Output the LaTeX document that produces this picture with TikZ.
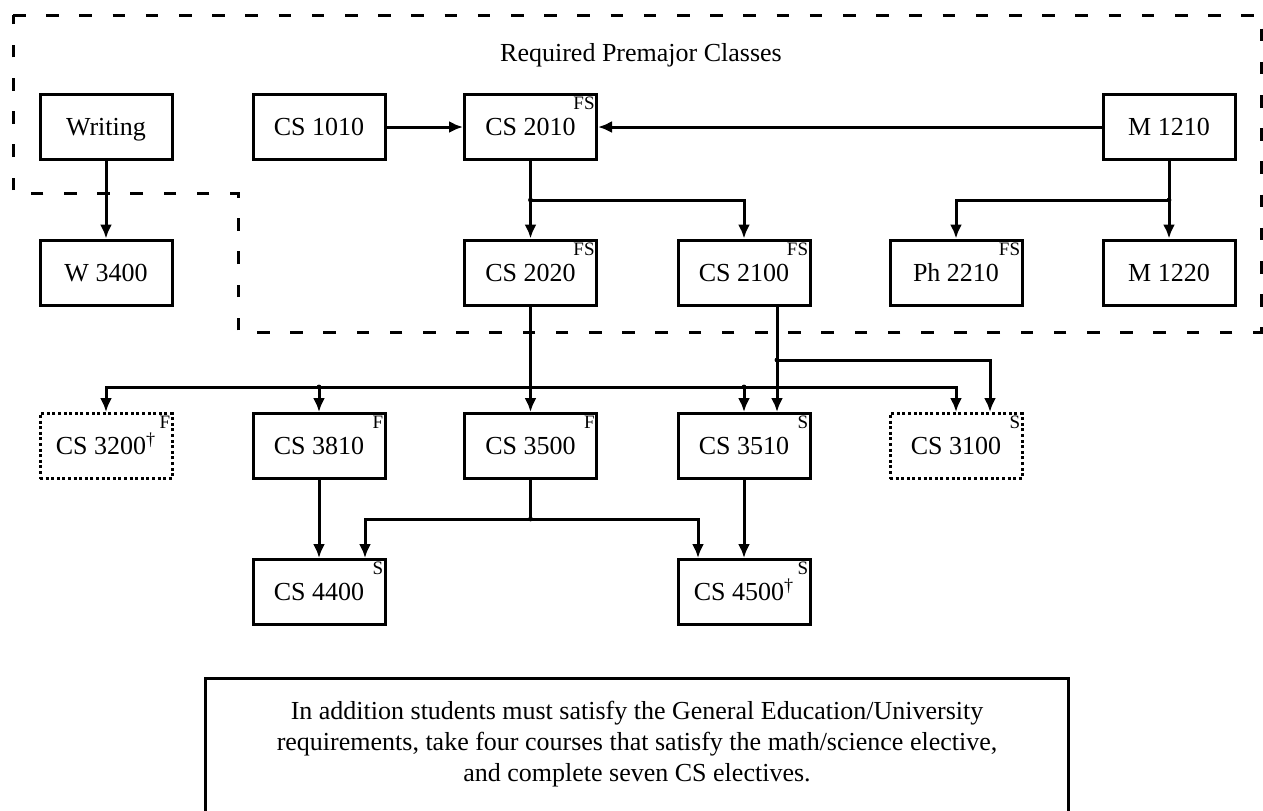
\documentclass[tikz,border=0pt]{standalone}
\usepackage{fontspec}
\setmainfont{Liberation Serif}
\usetikzlibrary{arrows.meta}
\tikzset{
  course/.style={draw, line width=1.5pt, minimum width=66pt, minimum height=32.5pt,
    inner sep=0pt, text height=8.6pt, text depth=0pt, font=\fontsize{13}{15.6}\selectfont},
  elective/.style={course, dash pattern=on 1.5pt off 1.3pt},
  term/.style={anchor=north east, inner sep=0pt, xshift=-1.5pt, yshift=-2pt,
    font=\fontsize{9.5}{11}\selectfont},
  link/.style={line width=1.5pt, -{Latex[length=7pt,width=6pt]}},
  premajor/.style={line width=1.5pt, dash pattern=on 6.3pt off 10.3pt},
  note/.style={draw, line width=1.5pt, anchor=north, minimum width=431.5pt,
    inner ysep=11.5pt, text depth=30pt, align=center, font=\fontsize{13}{15.5}\selectfont}
}
\newcommand{\lastyear}{\smash{\textsuperscript{\dag}}}

\begin{document}
\begin{tikzpicture}[x=0.5pt, y=-0.5pt]
  \clip (0,0) rectangle (1263,810);
  % premajor region
  \draw[premajor] (13,15) -- (1261,15) -- (1261,332) -- (238,332) -- (238,193) -- (13,193) -- cycle;
  \node[font=\fontsize{13}{15.6}\selectfont] (title) at (641,55) {Required Premajor Classes};

  \node[course] (writing) at (106,127) {Writing};
  \node[course] (cs1010) at (319,127) {CS 1010};
  \node[course] (cs2010) at (530.5,127) {CS 2010};
  \node[course] (m1210) at (1169,127) {M 1210};
  \node[course] (w3400) at (106,272.5) {W 3400};
  \node[course] (cs2020) at (530.5,272.5) {CS 2020};
  \node[course] (cs2100) at (744,272.5) {CS 2100};
  \node[course] (ph2210) at (956,272.5) {Ph 2210};
  \node[course] (m1220) at (1169,272.5) {M 1220};
  \node[elective] (cs3200) at (106,446) {CS 3200\lastyear};
  \node[course] (cs3810) at (319,446) {CS 3810};
  \node[course] (cs3500) at (530.5,446) {CS 3500};
  \node[course] (cs3510) at (744,446) {CS 3510};
  \node[elective] (cs3100) at (956,446) {CS 3100};
  \node[course] (cs4400) at (319,592) {CS 4400};
  \node[course] (cs4500) at (744,592) {CS 4500\lastyear};

  % semesters
  \node[term] (cs2010t) at (cs2010.north east) {FS};
  \node[term] (cs2020t) at (cs2020.north east) {FS};
  \node[term] (cs2100t) at (cs2100.north east) {FS};
  \node[term] (ph2210t) at (ph2210.north east) {FS};
  \node[term] (cs3200t) at (cs3200.north east) {F};
  \node[term] (cs3810t) at (cs3810.north east) {F};
  \node[term] (cs3500t) at (cs3500.north east) {F};
  \node[term] (cs3510t) at (cs3510.north east) {S};
  \node[term] (cs3100t) at (cs3100.north east) {S};
  \node[term] (cs4400t) at (cs4400.north east) {S};
  \node[term] (cs4500t) at (cs4500.north east) {S};

  \coordinate (j1) at (530.5,200);
  \coordinate (j2) at (1169,200);
  \coordinate (bus) at (530.5,387);
  \coordinate (b3810) at (bus -| cs3810);
  \coordinate (b3510) at (bus -| cs3510);
  \coordinate (j4) at (777,360);
  \coordinate (j5) at (530.5,519);

  \draw[link] (writing) -- (w3400);
  \draw[link] (cs1010) -- (cs2010);
  \draw[link] (m1210) -- (cs2010);
  \draw[link] (cs2010) -- (cs2020);
  \draw[link] (j1) -| (cs2100);
  \draw[link] (m1210) -- (m1220);
  \draw[link] (j2) -| (ph2210);
  \draw[link] (cs2020) -- (cs3500);
  \draw[link] (bus) -| (cs3200);
  \draw[link] (bus) -| (cs3100);
  \draw[link] (b3810) -- (cs3810);
  \draw[link] (b3510) -- (cs3510);
  \draw[link] (cs2100.south -| j4) -- (cs3510.north -| j4);
  \draw[link] (j4) -| ([xshift=17pt]cs3100.north);
  \draw[line width=1.5pt] (cs3500) -- (j5);
  \draw[link] (j5) -| ([xshift=23pt]cs4400.north);
  \draw[link] (j5) -| ([xshift=-23pt]cs4500.north);
  \draw[link] (cs3810) -- (cs4400);
  \draw[link] (cs3510) -- (cs4500);
  \foreach \p in {j1,j2,b3810,b3510,j4,j5}
    \fill (\p) circle (1.2pt);

  \node[note] (extra) at (637,677) {In addition students must satisfy the General Education/University\\
    requirements, take four courses that satisfy the math/science elective,\\
    and complete seven CS electives.};
\end{tikzpicture}
\end{document}
